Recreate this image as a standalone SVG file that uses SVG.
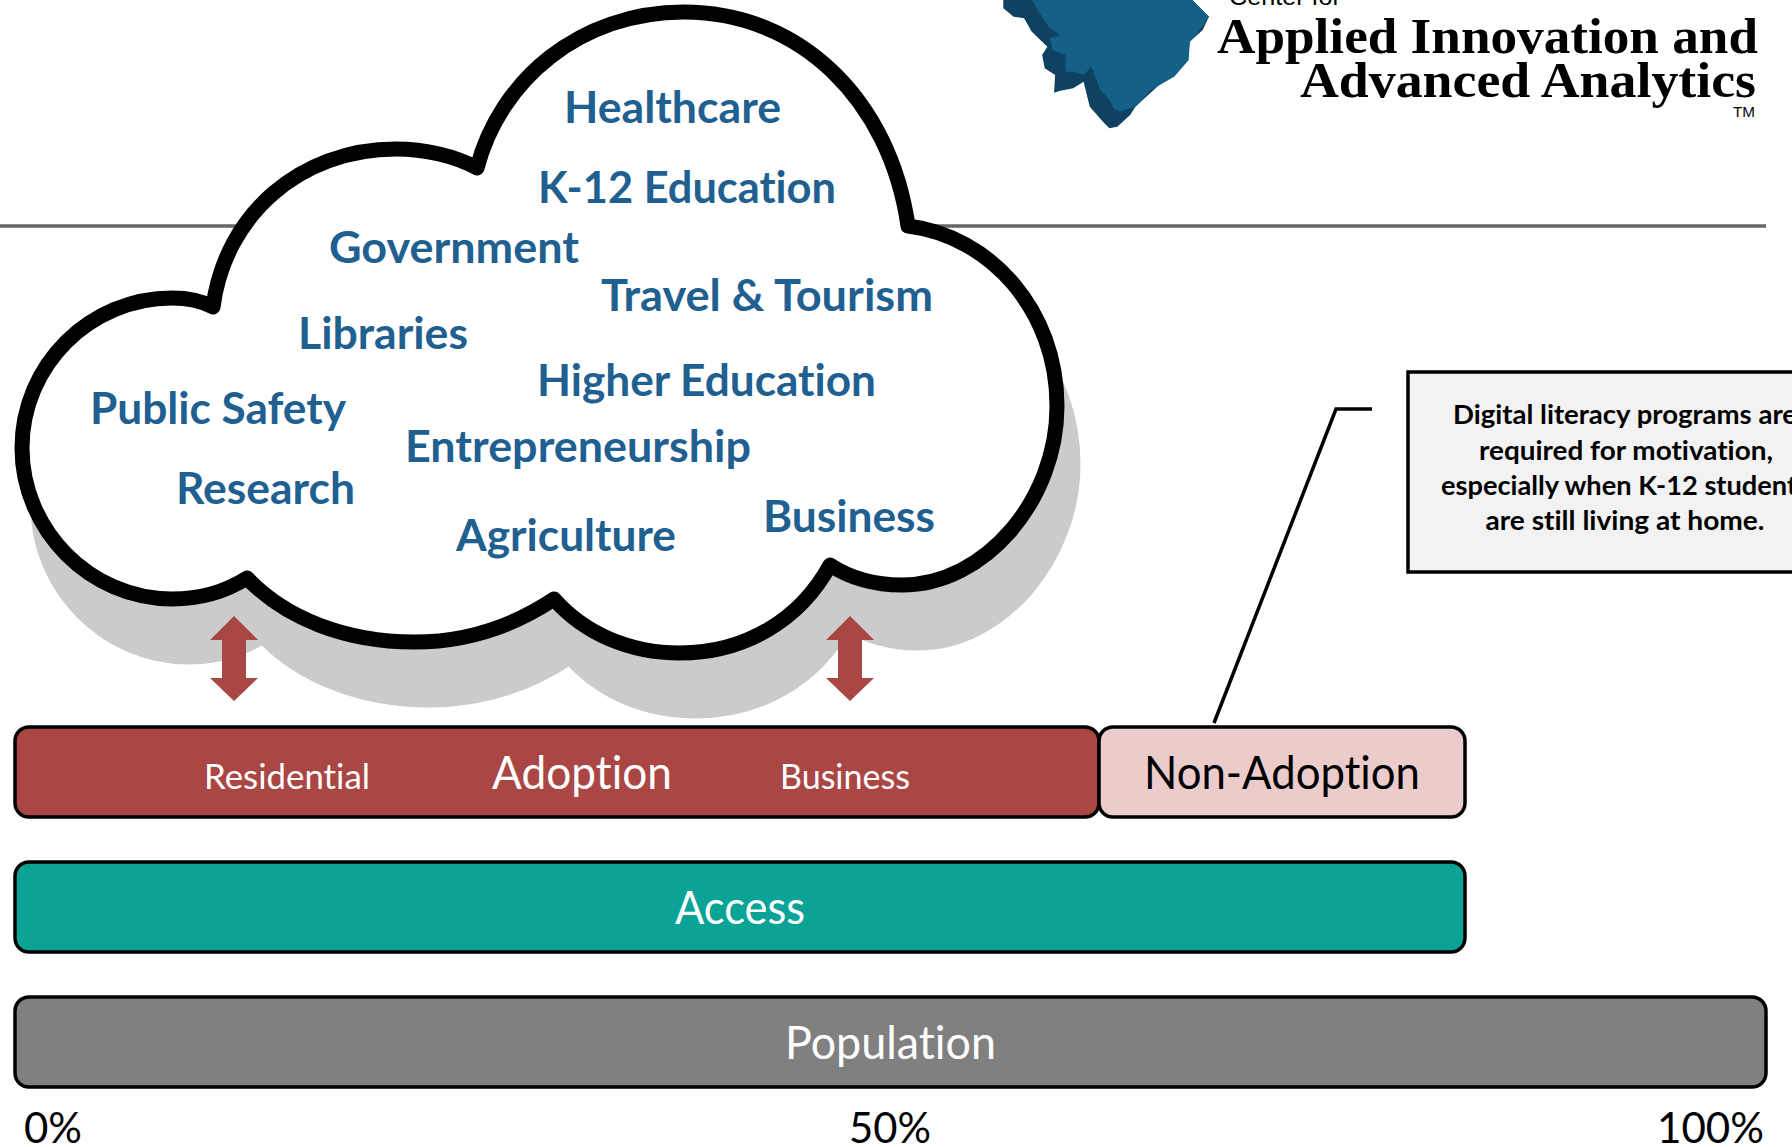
<svg xmlns="http://www.w3.org/2000/svg" xmlns:xlink="http://www.w3.org/1999/xlink" width="1792" height="1147" viewBox="0 0 1792 1147">
<style>
text{font-family:"Lato","Open Sans","Liberation Sans",sans-serif;font-variant-ligatures:none}
.c{font-size:43px;font-weight:700;fill:#1f6091}
.b{stroke:#000;stroke-width:3.5}
.w{fill:#fff}
.l{font-size:46px}
.s{font-size:35px}
.n{font-size:43px;fill:#000}
.m{font-size:27px;font-weight:700;fill:#000;text-anchor:middle}
.lg{font-family:"Liberation Serif",serif;font-weight:700;font-size:51px;fill:#000}
.ar{fill:#a94744}
</style>
<defs>
<path id="cloudShape" d="M213,307C225,215 300,149 396,149C425,149 455,156 477,168C500,80 580,12 684,12C800,12 890,100 908,226C990,236 1057,310 1057,406C1057,500 985,585 902,585C875,585 850,578 830,565C800,620 745,653 680,653C630,653 585,634 554,599C515,625 470,642 414,642C345,642 285,618 247,578C225,592 200,599 172,599C90,599 22,530 22,448C22,365 90,298 172,298C187,298 200,300 213,307Z"/>
</defs>
<rect width="1792" height="1147" fill="#fff"/>
<g id="rule"><line x1="0" y1="226" x2="1766" y2="226" stroke="#666" stroke-width="3.5"/></g>
<g id="logo">
<g transform="translate(980,0) scale(.5179,.3333)">
<path fill="#0f4260" d="M45,0L45,25L65,50L85,55L100,95L130,140L120,165L125,205L145,225L143,278L155,272L180,265L200,245L212,320L240,370L250,385L265,380L290,345L300,320L360,235L385,180L403,160L405,125L430,90L442,50L410,0Z"/>
<path fill="#156087" d="M100,0L115,40L135,85L155,105L135,115L140,150L165,165L165,215L180,215L200,225L215,200L232,268L250,300L258,325L270,335L300,320L330,270L375,230L403,180L405,125L420,100L442,50L410,0Z"/>
</g>
<text x="1229" y="5" style="font-family:'Liberation Sans',sans-serif;font-size:24px" textLength="112" lengthAdjust="spacingAndGlyphs">Center for</text>
<text class="lg" x="1217" y="53" textLength="541" lengthAdjust="spacingAndGlyphs">Applied Innovation and</text>
<text class="lg" x="1300" y="97" textLength="456" lengthAdjust="spacingAndGlyphs">Advanced Analytics</text>
<text x="1733" y="117" style="font-family:'Liberation Sans',sans-serif;font-size:14px" textLength="22" lengthAdjust="spacingAndGlyphs">TM</text>
</g>
<g id="cloud">
<use xlink:href="#cloudShape" href="#cloudShape" transform="translate(16,58)" fill="#cbcbcb" stroke="#cbcbcb" stroke-width="15"/>
<use xlink:href="#cloudShape" href="#cloudShape" fill="#fff" stroke="#000" stroke-width="15" stroke-linejoin="round"/>
<text class="c" x="564" y="123" textLength="217" lengthAdjust="spacingAndGlyphs">Healthcare</text>
<text class="c" x="538" y="203" textLength="298" lengthAdjust="spacingAndGlyphs">K-12 Education</text>
<text class="c" x="329" y="263" textLength="250" lengthAdjust="spacingAndGlyphs">Government</text>
<text class="c" x="601" y="311" textLength="332" lengthAdjust="spacingAndGlyphs">Travel &amp; Tourism</text>
<text class="c" x="298" y="349" textLength="170" lengthAdjust="spacingAndGlyphs">Libraries</text>
<text class="c" x="537" y="396" textLength="339" lengthAdjust="spacingAndGlyphs">Higher Education</text>
<text class="c" x="90" y="424" textLength="256" lengthAdjust="spacingAndGlyphs">Public Safety</text>
<text class="c" x="405" y="462" textLength="346" lengthAdjust="spacingAndGlyphs">Entrepreneurship</text>
<text class="c" x="176" y="504" textLength="179" lengthAdjust="spacingAndGlyphs">Research</text>
<text class="c" x="456" y="551" textLength="220" lengthAdjust="spacingAndGlyphs">Agriculture</text>
<text class="c" x="763" y="532" textLength="172" lengthAdjust="spacingAndGlyphs">Business</text>
</g>
<g id="connectors">
<polygon class="ar" points="234,616 258,640 246,640 246,678 258,678 234,701 210,678 222,678 222,640 210,640"/>
<polygon class="ar" points="850,616 874,640 862,640 862,678 874,678 850,701 826,678 838,678 838,640 826,640"/>
<polyline points="1372,409 1336,409 1214,723" fill="none" stroke="#000" stroke-width="3.500"/>
</g>
<g id="callout">
<rect x="1408" y="372" width="400" height="200" fill="#f2f2f2" stroke="#000" stroke-width="3.500"/>
<text class="m" x="1625" y="424" textLength="344" lengthAdjust="spacingAndGlyphs">Digital literacy programs are</text>
<text class="m" x="1626" y="460" textLength="294" lengthAdjust="spacingAndGlyphs">required for motivation,</text>
<text class="m" x="1625" y="495" textLength="368" lengthAdjust="spacingAndGlyphs">especially when K-12 students</text>
<text class="m" x="1625" y="530" textLength="279" lengthAdjust="spacingAndGlyphs">are still living at home.</text>
</g>
<g id="adoption">
<rect class="b" x="15" y="727" width="1084" height="90" rx="14" fill="#aa4644"/>
<text class="w s" x="204" y="789" textLength="166" lengthAdjust="spacingAndGlyphs">Residential</text>
<text class="w l" x="492" y="789" textLength="180" lengthAdjust="spacingAndGlyphs">Adoption</text>
<text class="w s" x="780" y="789" textLength="130" lengthAdjust="spacingAndGlyphs">Business</text>
</g>
<g id="non-adoption">
<rect class="b" x="1099" y="727" width="366" height="90" rx="14" fill="#ebcccb"/>
<text class="l" x="1144" y="789" textLength="276" lengthAdjust="spacingAndGlyphs">Non-Adoption</text>
</g>
<g id="access">
<rect class="b" x="15" y="862" width="1450" height="90" rx="14" fill="#0aa396"/>
<text class="w l" x="675" y="924" textLength="130" lengthAdjust="spacingAndGlyphs">Access</text>
</g>
<g id="population">
<rect class="b" x="15" y="997" width="1751" height="90" rx="14" fill="#808080"/>
<text class="w l" x="785" y="1059" textLength="211" lengthAdjust="spacingAndGlyphs">Population</text>
</g>
<g id="axis">
<text class="n" x="24" y="1143" textLength="58" lengthAdjust="spacingAndGlyphs">0%</text>
<text class="n" x="849" y="1143" textLength="82" lengthAdjust="spacingAndGlyphs">50%</text>
<text class="n" x="1657" y="1143" textLength="107" lengthAdjust="spacingAndGlyphs">100%</text>
</g>
</svg>
